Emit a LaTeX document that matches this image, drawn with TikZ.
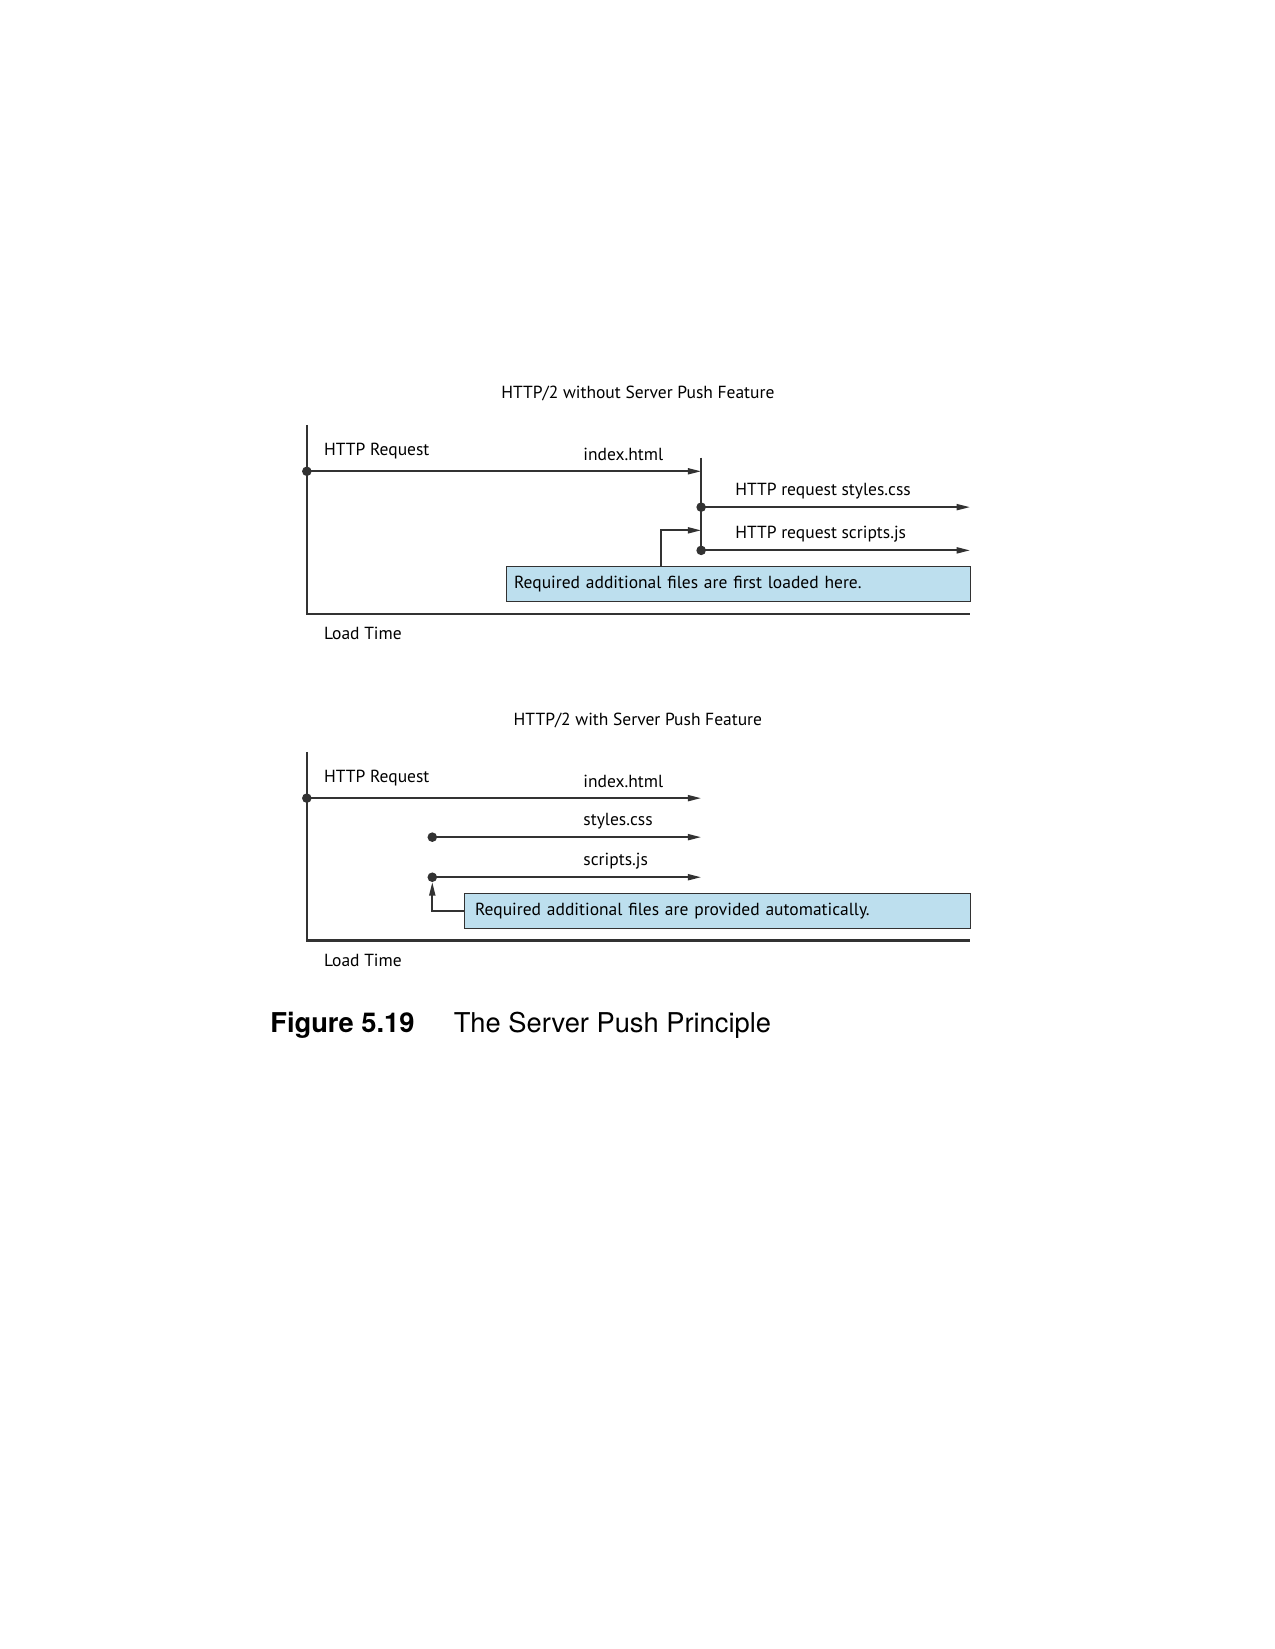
\documentclass[tikz,border=0pt]{standalone}
\usepackage{fontspec}
\setmainfont{PT Sans}
\newfontfamily\capfont{TeX Gyre Heros}
\usetikzlibrary{arrows.meta}

\definecolor{axisgray}{RGB}{50,50,50}
\definecolor{notefill}{RGB}{189,223,238}

\tikzset{
  axisline/.style={draw=axisgray, line width=1pt},
  flow/.style={draw=axisgray, line width=0.85pt, -{Triangle[length=6.4pt,width=2.9pt]}},
  lbl/.style={anchor=west, inner sep=0pt, font=\fontsize{8.4}{10}\selectfont},
  ttl/.style={inner sep=0pt, font=\fontsize{8.4}{10}\selectfont},
  notebox/.style={draw=axisgray, fill=notefill, line width=0.6pt, anchor=north west,
    inner ysep=0pt, minimum height=16.7pt, align=left, font=\fontsize{8.4}{10}\selectfont},
  dot/.style={fill=axisgray},
}

\begin{document}
\begin{tikzpicture}[x=0.5062pt,y=0.5062pt,yscale=-1,xscale=1]
\useasboundingbox (0,0) rectangle (1209,1564);

%%%%% Top diagram: without server push
% Text Node
\node[ttl] (tTitle) at (605,373) {HTTP/2 without Server Push Feature};
\coordinate (tTop) at (291,403);
\coordinate (tOrig) at (291,582);
\coordinate (tEnd) at (920,582);
\coordinate (tReq) at (291,447);
\coordinate (tIdx) at (665,447);
\coordinate (tBarTop) at (665,434);
\coordinate (tCss) at (665,481);
\coordinate (tCssEnd) at (920,481);
\coordinate (tJs) at (665,522);
\coordinate (tJsEnd) at (920,522);
\coordinate (tKnee) at (627,503);
\coordinate (tPush) at (665,503);
%Straight Lines: axes
\draw[axisline] (tTop) -- (tOrig) -- (tEnd);
\draw[axisline] (tBarTop) -- (tJs);
%Straight Lines: requests
\draw[flow] (tReq) -- (tIdx);
\draw[flow] (tCss) -- (tCssEnd);
\draw[flow] (tJs) -- (tJsEnd);
%Shape: Circle
\fill[dot] (tReq) circle (2.3pt);
\fill[dot] (tCss) circle (2.3pt);
\fill[dot] (tJs) circle (2.3pt);
% Text Node
\node[lbl] (tReqLbl) at (307,428) {HTTP Request};
\node[lbl] (tIdxLbl) at (553,431) {index.html};
\node[lbl] (tCssLbl) at (697,466) {HTTP request styles.css};
\node[lbl] (tJsLbl) at (697,507) {HTTP request scripts.js};
\node[lbl] (tLoad) at (307,601) {Load Time};
%Shape: Rectangle
\node[notebox, inner xsep=3.54pt, text width=215.6pt] (tNote) at (480,537)
  {Required additional files are first loaded here.};
\draw[flow] (tNote.north -| tKnee) -- (tKnee) -- (tPush);

%%%%% Bottom diagram: with server push
% Text Node
\node[ttl] (bTitle) at (605,683) {HTTP/2 with Server Push Feature};
\coordinate (bTop) at (291,713);
\coordinate (bOrig) at (291,892);
\coordinate (bEnd) at (920,892);
\coordinate (bReq) at (291,757);
\coordinate (bIdx) at (665,757);
\coordinate (bCss) at (410,794);
\coordinate (bCssEnd) at (665,794);
\coordinate (bJs) at (410,832);
\coordinate (bJsEnd) at (665,832);
%Straight Lines: axes
\draw[axisline] (bTop) -- (bOrig) -- (bEnd);
%Straight Lines: transfers
\draw[flow] (bReq) -- (bIdx);
\draw[flow] (bCss) -- (bCssEnd);
\draw[flow] (bJs) -- (bJsEnd);
%Shape: Circle
\fill[dot] (bReq) circle (2.3pt);
\fill[dot] (bCss) circle (2.3pt);
\fill[dot] (bJs) circle (2.3pt);
% Text Node
\node[lbl] (bReqLbl) at (307,738) {HTTP Request};
\node[lbl] (bIdxLbl) at (553,741) {index.html};
\node[lbl] (bCssLbl) at (553,779) {styles.css};
\node[lbl] (bJsLbl) at (553,817) {scripts.js};
\node[lbl] (bLoad) at (307,911) {Load Time};
%Shape: Rectangle
\node[notebox, inner xsep=5.06pt, text width=232.8pt] (bNote) at (440,847)
  {Required additional files are provided automatically.};
\draw[flow, shorten >=2.4pt] (bNote.west) -| (bJs);

%%%%% Caption
\node[anchor=west, inner sep=0pt, font=\capfont\fontsize{13.1}{15}\selectfont\bfseries] (capNum) at (256,972) {Figure 5.19};
\node[anchor=west, inner sep=0pt, font=\capfont\fontsize{13.1}{15}\selectfont] (capTxt) at (430,972) {The Server Push Principle};

\end{tikzpicture}
\end{document}
